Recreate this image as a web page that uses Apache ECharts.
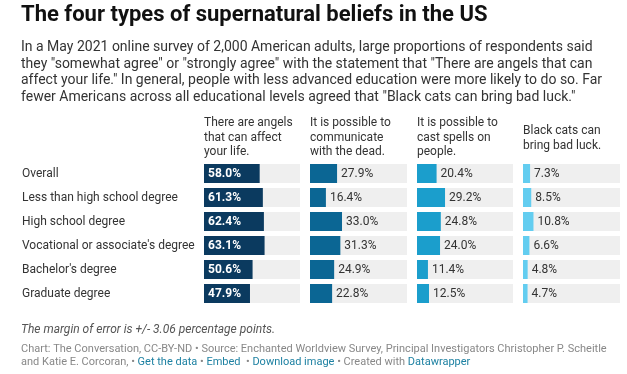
<!DOCTYPE html>
<html>
<head>
<meta charset="utf-8">
<script src="https://cdn.jsdelivr.net/npm/echarts@6/dist/echarts.min.js"></script>
<style>
html,body{margin:0;padding:0;background:#fff;}
#c{width:627px;height:374px;}
</style>
</head>
<body>
<div id="c"></div>
<script>
const categories = ["Overall", "Less than high school degree", "High school degree", "Vocational or associate's degree", "Bachelor's degree", "Graduate degree"];
const angels = [58.0, 61.3, 62.4, 63.1, 50.6, 47.9];
const dead = [27.9, 16.4, 33.0, 31.3, 24.9, 22.8];
const spells = [20.4, 29.2, 24.8, 24.0, 11.4, 12.5];
const cats = [7.3, 8.5, 10.8, 6.6, 4.8, 4.7];
const headers = ["There are angels\nthat can affect\nyour life.", "It is possible to\ncommunicate\nwith the dead.", "It is possible to\ncast spells on\npeople.", "Black cats can\nbring bad luck."];
const seriesData = [angels, dead, spells, cats];
const colors = ["#0b3a5f", "#0b6694", "#1b9ecc", "#63cdf0"];

const FONT = "Roboto, sans-serif";
const lefts = [204, 310, 417, 523];
const widths = [96, 97, 96, 97];
const headerTops = [116, 116, 116, 124];

const chart = echarts.init(document.getElementById('c'), null, {renderer: 'canvas'});

const grids = [], xAxes = [], yAxes = [], series = [];
for (let i = 0; i < 4; i++) {
  grids.push({left: lefts[i], width: widths[i], top: 161.5, height: 144, containLabel: false});
  xAxes.push({type: 'value', gridIndex: i, min: 0, max: 100, show: false});
  yAxes.push({
    type: 'category', gridIndex: i, data: categories, inverse: true,
    axisLine: {show: false}, axisTick: {show: false}, splitLine: {show: false},
    axisLabel: i === 0 ? {show: true, align: 'left', margin: 182, color: '#333', fontSize: 12, fontFamily: FONT} : {show: false}
  });
  series.push({
    type: 'bar', xAxisIndex: i, yAxisIndex: i, data: seriesData[i],
    barWidth: 19,
    showBackground: true,
    backgroundStyle: {color: '#efefef'},
    itemStyle: {color: colors[i]},
    label: i === 0 ? {
      show: true, position: 'insideLeft', distance: 4, color: '#fff', fontWeight: 'bold',
      fontSize: 12, fontFamily: FONT, formatter: p => p.value.toFixed(1) + '%'
    } : {
      show: true, position: 'right', distance: 4, color: '#333',
      fontSize: 12, fontFamily: FONT, formatter: p => p.value.toFixed(1) + '%'
    },
    animation: false
  });
}

const titles = [
  {text: 'The four types of supernatural beliefs in the US', left: 21, top: 4,
   textStyle: {fontFamily: FONT, fontSize: 22, fontWeight: 'bold', color: '#111'}},
  {text: 'In a May 2021 online survey of 2,000 American adults, large proportions of respondents said\nthey "somewhat agree" or "strongly agree" with the statement that "There are angels that can\naffect your life." In general, people with less advanced education were more likely to do so. Far\nfewer Americans across all educational levels agreed that "Black cats can bring bad luck."',
   left: 21, top: 39.4,
   textStyle: {fontFamily: FONT, fontSize: 14, fontWeight: 'normal', color: '#333', lineHeight: 16.5}},
  {text: 'The margin of error is +/- 3.06 percentage points.', left: 21, top: 323.7,
   textStyle: {fontFamily: FONT, fontSize: 12, fontStyle: 'italic', fontWeight: 'normal', color: '#555'}},
  {text: 'Chart: The Conversation, CC-BY-ND • Source: Enchanted Worldview Survey, Principal Investigators Christopher P. Scheitle\nand Katie E. Corcoran, • {l|Get the data} • {l|Embed}  • {l|Download image} • Created with {l|Datawrapper}',
   left: 21, top: 343,
   textStyle: {fontFamily: FONT, fontSize: 11, fontWeight: 'normal', color: '#888', lineHeight: 13,
     rich: {l: {color: '#1d81a2', fontFamily: FONT, fontSize: 11, lineHeight: 13}}}}
];
for (let i = 0; i < 4; i++) {
  titles.push({text: headers[i], left: lefts[i], top: headerTops[i],
    textStyle: {fontFamily: FONT, fontSize: 12, fontWeight: 'normal', color: '#333', lineHeight: 14.5}});
}

chart.setOption({
  animation: false,
  backgroundColor: '#fff',
  title: titles.map(t => Object.assign({padding: 0}, t)),
  grid: grids, xAxis: xAxes, yAxis: yAxes, series: series
});
</script>
</body>
</html>
